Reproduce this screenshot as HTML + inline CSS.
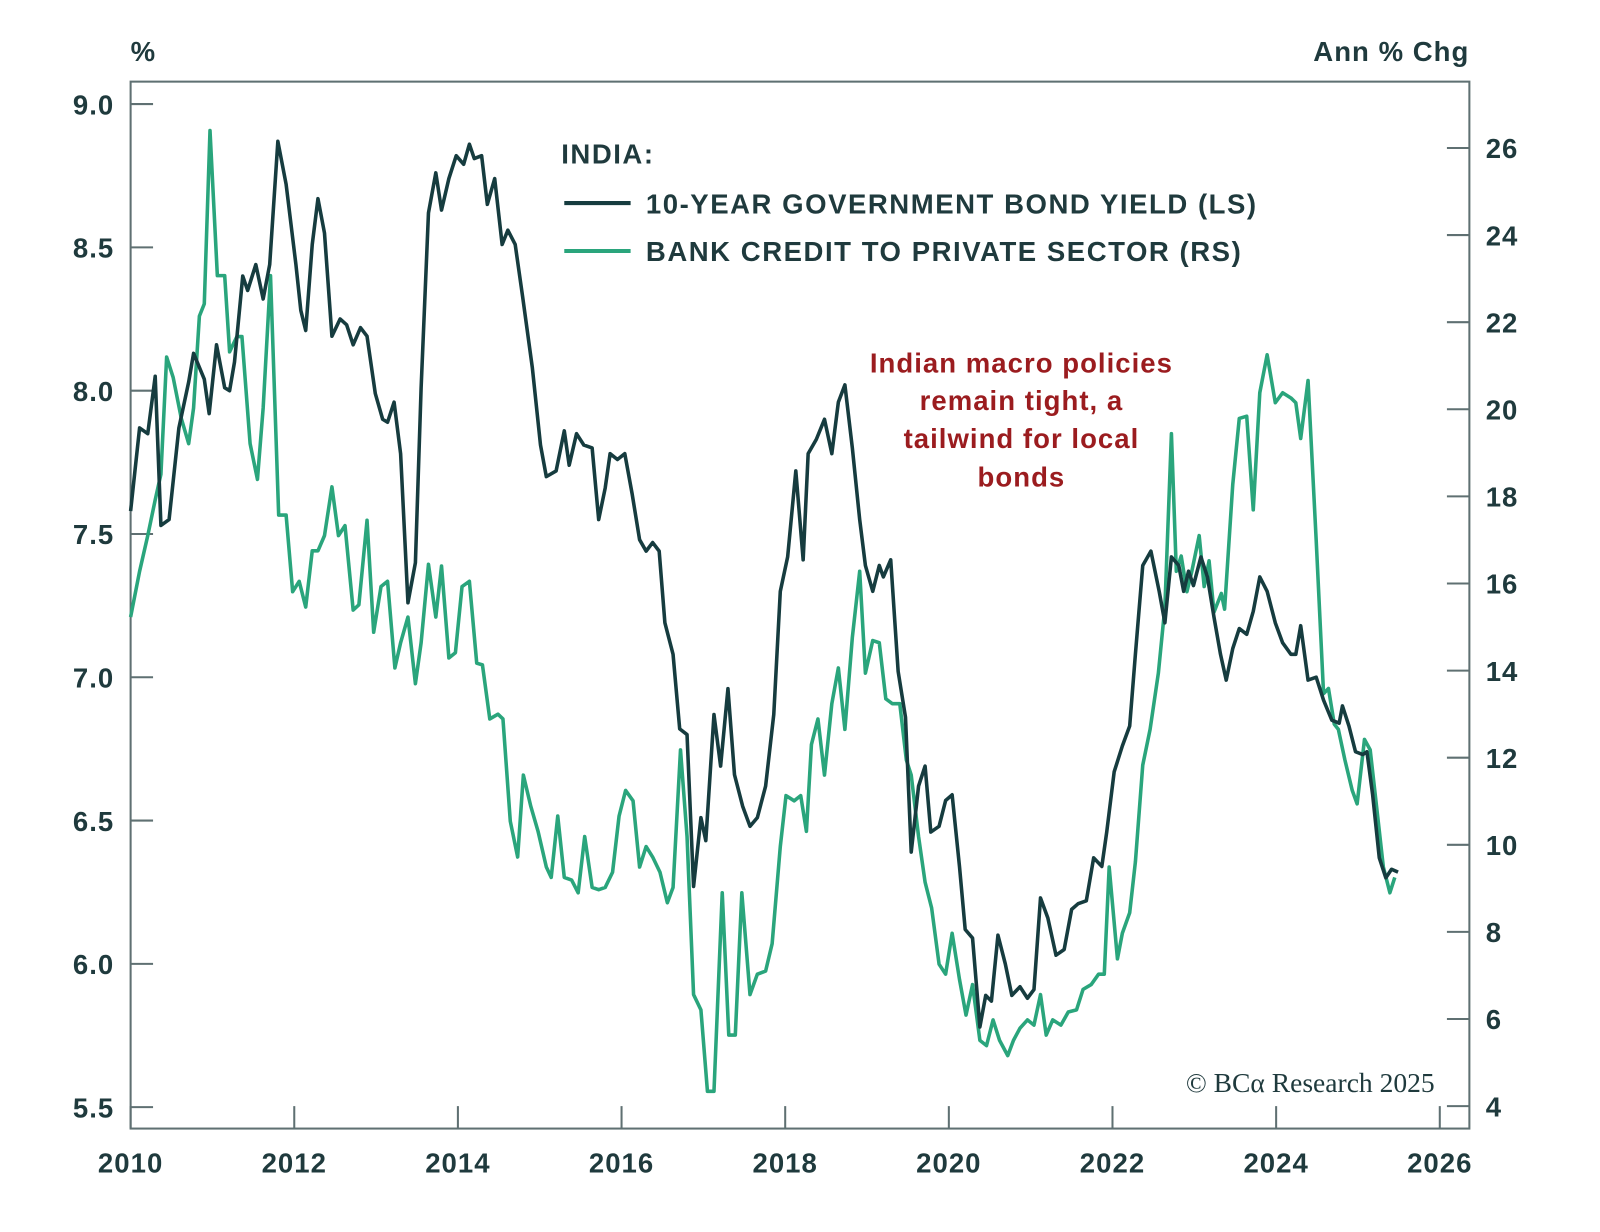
<!DOCTYPE html>
<html><head><meta charset="utf-8"><style>
html,body{margin:0;padding:0;background:#fff;}
svg{display:block;font-family:"Liberation Sans","DejaVu Sans",sans-serif;}
text{letter-spacing:1px;}
</style></head><body>
<svg id="chart" width="1600" height="1232" viewBox="0 0 1600 1232">
<g transform="scale(1.0204)">
<g id="axes"></g>
<g id="series"></g>
<text x="128" y="60" font-size="27" fill="#1f3a3d" font-weight="bold">%</text>
<text x="1440" y="60" font-size="27" fill="#1f3a3d" font-weight="bold" text-anchor="end">Ann % Chg</text>
<g>
<text x="550" y="160" font-size="27" fill="#1f3a3d" font-weight="bold" style="letter-spacing:1.5px">INDIA:</text>
<line x1="553" y1="199" x2="618" y2="199" stroke="#163c3f" stroke-width="4"/>
<text x="633" y="209" font-size="27" fill="#1f3a3d" font-weight="bold" style="letter-spacing:1.5px">10-YEAR GOVERNMENT BOND YIELD (LS)</text>
<line x1="553" y1="246" x2="618" y2="246" stroke="#2aa57c" stroke-width="4"/>
<text x="633" y="256" font-size="27" fill="#1f3a3d" font-weight="bold" style="letter-spacing:1.5px">BANK CREDIT TO PRIVATE SECTOR (RS)</text>
</g>
<g font-size="27" fill="#9b1c1f" font-weight="bold" text-anchor="middle" style="letter-spacing:1.2px">
<text x="1001" y="365">Indian macro policies</text>
<text x="1001" y="402">remain tight, a</text>
<text x="1001" y="439">tailwind for local</text>
<text x="1001" y="477">bonds</text>
</g>
<text x="1406" y="1070" font-size="27" fill="#1f3a3d" text-anchor="end" font-family="'Liberation Serif',serif" style="letter-spacing:0">© BCα Research 2025</text>
</g>
</svg>
<script>
const xTicks=[2010,2012,2014,2016,2018,2020,2022,2024,2026];
const leftTicks=[5.5,6.0,6.5,7.0,7.5,8.0,8.5,9.0];
const rightTicks=[4,6,8,10,12,14,16,18,20,22,24,26];
const bondDates=[2010.0,2010.11,2010.21,2010.30,2010.37,2010.47,2010.59,2010.71,2010.77,2010.90,2010.96,2011.05,2011.15,2011.21,2011.27,2011.37,2011.43,2011.53,2011.62,2011.70,2011.80,2011.90,2012.02,2012.08,2012.14,2012.22,2012.29,2012.37,2012.46,2012.56,2012.64,2012.72,2012.81,2012.89,2012.99,2013.08,2013.14,2013.22,2013.30,2013.39,2013.48,2013.55,2013.64,2013.73,2013.80,2013.89,2013.98,2014.07,2014.14,2014.20,2014.29,2014.36,2014.45,2014.54,2014.61,2014.70,2014.79,2014.91,2015.01,2015.08,2015.20,2015.30,2015.36,2015.45,2015.54,2015.64,2015.72,2015.80,2015.86,2015.95,2016.04,2016.13,2016.22,2016.30,2016.38,2016.46,2016.53,2016.63,2016.71,2016.80,2016.88,2016.97,2017.03,2017.13,2017.21,2017.30,2017.38,2017.48,2017.57,2017.66,2017.76,2017.86,2017.94,2018.03,2018.13,2018.22,2018.28,2018.38,2018.48,2018.57,2018.65,2018.73,2018.82,2018.91,2018.98,2019.07,2019.15,2019.20,2019.29,2019.38,2019.47,2019.54,2019.63,2019.71,2019.78,2019.88,2019.96,2020.04,2020.13,2020.20,2020.29,2020.38,2020.45,2020.52,2020.60,2020.69,2020.77,2020.87,2020.96,2021.04,2021.12,2021.21,2021.31,2021.41,2021.50,2021.58,2021.68,2021.77,2021.87,2021.93,2022.02,2022.12,2022.21,2022.28,2022.37,2022.47,2022.57,2022.64,2022.72,2022.81,2022.87,2022.93,2022.99,2023.08,2023.16,2023.24,2023.32,2023.39,2023.47,2023.55,2023.64,2023.72,2023.80,2023.89,2023.99,2024.08,2024.18,2024.24,2024.30,2024.39,2024.49,2024.58,2024.68,2024.77,2024.81,2024.89,2024.97,2025.06,2025.11,2025.18,2025.26,2025.34,2025.41,2025.49];
const bondYield=[7.58,7.87,7.85,8.05,7.53,7.55,7.87,8.03,8.13,8.04,7.92,8.16,8.01,8.0,8.1,8.40,8.35,8.44,8.32,8.44,8.87,8.72,8.44,8.28,8.21,8.51,8.67,8.55,8.19,8.25,8.23,8.16,8.22,8.19,7.99,7.90,7.89,7.96,7.78,7.26,7.40,8.01,8.62,8.76,8.63,8.74,8.82,8.79,8.86,8.81,8.82,8.65,8.74,8.51,8.56,8.51,8.33,8.08,7.81,7.70,7.72,7.86,7.74,7.85,7.81,7.80,7.55,7.66,7.78,7.76,7.78,7.64,7.48,7.44,7.47,7.44,7.19,7.08,6.82,6.80,6.27,6.51,6.43,6.87,6.69,6.96,6.66,6.55,6.48,6.51,6.62,6.87,7.30,7.42,7.72,7.41,7.78,7.83,7.90,7.78,7.96,8.02,7.80,7.55,7.39,7.30,7.39,7.35,7.41,7.02,6.86,6.39,6.62,6.69,6.46,6.48,6.57,6.59,6.34,6.12,6.09,5.78,5.89,5.87,6.10,6.00,5.89,5.92,5.88,5.91,6.23,6.16,6.03,6.05,6.19,6.21,6.22,6.37,6.34,6.46,6.67,6.76,6.83,7.08,7.39,7.44,7.30,7.19,7.42,7.39,7.30,7.37,7.32,7.42,7.35,7.21,7.08,6.99,7.10,7.17,7.15,7.23,7.35,7.30,7.19,7.12,7.08,7.08,7.18,6.99,7.00,6.92,6.85,6.84,6.90,6.83,6.74,6.73,6.74,6.59,6.37,6.30,6.33,6.32];
const creditDates=[2010.0,2010.11,2010.21,2010.30,2010.37,2010.44,2010.52,2010.62,2010.71,2010.77,2010.84,2010.90,2010.97,2011.06,2011.15,2011.21,2011.30,2011.36,2011.46,2011.55,2011.62,2011.71,2011.81,2011.90,2011.98,2012.06,2012.14,2012.22,2012.29,2012.37,2012.46,2012.54,2012.62,2012.72,2012.79,2012.89,2012.97,2013.06,2013.14,2013.23,2013.30,2013.39,2013.48,2013.55,2013.64,2013.73,2013.80,2013.89,2013.97,2014.05,2014.14,2014.23,2014.30,2014.39,2014.49,2014.55,2014.64,2014.73,2014.80,2014.89,2014.98,2015.08,2015.14,2015.22,2015.30,2015.39,2015.47,2015.55,2015.64,2015.72,2015.80,2015.89,2015.97,2016.05,2016.14,2016.22,2016.30,2016.38,2016.47,2016.56,2016.63,2016.72,2016.80,2016.88,2016.97,2017.05,2017.13,2017.23,2017.31,2017.39,2017.47,2017.57,2017.66,2017.76,2017.84,2017.94,2018.01,2018.11,2018.19,2018.26,2018.32,2018.40,2018.48,2018.57,2018.65,2018.73,2018.82,2018.91,2018.98,2019.07,2019.15,2019.23,2019.31,2019.40,2019.48,2019.54,2019.63,2019.71,2019.79,2019.88,2019.96,2020.04,2020.13,2020.21,2020.29,2020.38,2020.46,2020.54,2020.62,2020.72,2020.79,2020.87,2020.96,2021.04,2021.12,2021.19,2021.27,2021.37,2021.46,2021.56,2021.64,2021.74,2021.83,2021.90,2021.96,2022.06,2022.12,2022.21,2022.28,2022.37,2022.46,2022.56,2022.64,2022.72,2022.78,2022.84,2022.91,2022.97,2023.06,2023.12,2023.18,2023.24,2023.33,2023.37,2023.47,2023.55,2023.64,2023.72,2023.80,2023.89,2023.99,2024.08,2024.18,2024.24,2024.30,2024.39,2024.49,2024.58,2024.64,2024.71,2024.76,2024.84,2024.93,2024.99,2025.08,2025.15,2025.24,2025.31,2025.39,2025.45];
const bankCredit=[15.23,16.28,17.10,17.92,18.51,21.20,20.73,19.79,19.21,20.03,22.14,22.42,26.4,23.07,23.07,21.32,21.67,21.67,19.21,18.39,20.03,23.07,17.57,17.57,15.81,16.05,15.46,16.75,16.75,17.10,18.22,17.10,17.33,15.39,15.51,17.45,14.88,15.93,16.05,14.06,14.64,15.23,13.70,14.64,16.44,15.23,16.40,14.29,14.41,15.93,16.05,14.17,14.13,12.89,13.0,12.89,10.54,9.72,11.60,10.89,10.31,9.49,9.25,10.66,9.25,9.19,8.90,10.19,9.02,8.97,9.02,9.37,10.66,11.25,11.01,9.49,9.96,9.72,9.37,8.67,9.02,12.18,10.19,6.56,6.21,4.34,4.34,8.90,5.63,5.63,8.90,6.56,7.03,7.10,7.73,9.96,11.13,11.01,11.13,10.31,12.30,12.89,11.60,13.24,14.06,12.65,14.76,16.28,13.94,14.69,14.64,13.35,13.24,13.24,11.95,11.60,10.19,9.14,8.55,7.26,7.03,7.97,6.91,6.09,6.79,5.51,5.39,5.98,5.51,5.16,5.51,5.79,5.98,5.86,6.56,5.63,5.98,5.86,6.16,6.21,6.68,6.79,7.03,7.03,9.49,7.38,7.97,8.44,9.61,11.83,12.65,13.94,15.46,19.44,16.28,16.63,15.81,16.28,17.10,15.93,16.52,15.34,15.77,15.41,18.27,19.79,19.84,17.69,20.38,21.25,20.15,20.38,20.26,20.15,19.33,20.66,16.98,13.47,13.59,12.77,12.65,11.95,11.25,10.94,12.42,12.18,10.66,9.49,8.90,9.25];

const NS='http://www.w3.org/2000/svg';
const L=128,R=1440,T=80,B=1106;
const xs=y=>128+(y-2010)*(1411-128)/16;
const yl=v=>102+(9.0-v)*(1085-102)/3.5;
const yr=v=>145+(26-v)*(1084-145)/22;
const axes=document.getElementById('axes');
const series=document.getElementById('series');
function mk(tag,attrs,parent){const e=document.createElementNS(NS,tag);for(const k in attrs)e.setAttribute(k,attrs[k]);parent.appendChild(e);return e;}
const AX='#5f7072',TX='#1f3a3d';
const frame=mk('rect',{x:L,y:T,width:R-L,height:B-T,fill:'none',stroke:AX,'stroke-width':2},axes);


leftTicks.forEach(v=>{
  const y=yl(v);
  const t=mk('line',{x1:L,y1:y,x2:L+22,y2:y,stroke:AX,'stroke-width':2},axes);
  
  
  const tx=mk('text',{x:112,y:y+10,'font-size':27,'font-weight':'bold',fill:TX,'text-anchor':'end'},axes);
  tx.textContent=v.toFixed(1);
  
  
});
rightTicks.forEach(v=>{
  const y=yr(v);
  const t=mk('line',{x1:R-22,y1:y,x2:R,y2:y,stroke:AX,'stroke-width':2},axes);
  
  
  const tx=mk('text',{x:1456,y:y+10,'font-size':27,'font-weight':'bold',fill:TX},axes);
  tx.textContent=String(v);
  
  
});
xTicks.forEach(v=>{
  const x=xs(v);
  const t=mk('line',{x1:x,y1:B-22,x2:x,y2:B,stroke:AX,'stroke-width':2},axes);
  
  
  const tx=mk('text',{x:x,y:1149,'font-size':27,'font-weight':'bold',fill:TX,'text-anchor':'middle'},axes);
  tx.textContent=String(v);
  
  
});
function path(dates,vals,fy){return dates.map((d,i)=>(i?'L':'M')+xs(d).toFixed(1)+' '+fy(vals[i]).toFixed(1)).join(' ');}
const g=mk('path',{d:path(creditDates,bankCredit,yr),fill:'none',stroke:'#2aa57c','stroke-width':3.5,'stroke-linejoin':'round'},series);


const b=mk('path',{d:path(bondDates,bondYield,yl),fill:'none',stroke:'#163c3f','stroke-width':3.5,'stroke-linejoin':'round'},series);


</script>
</body></html>
